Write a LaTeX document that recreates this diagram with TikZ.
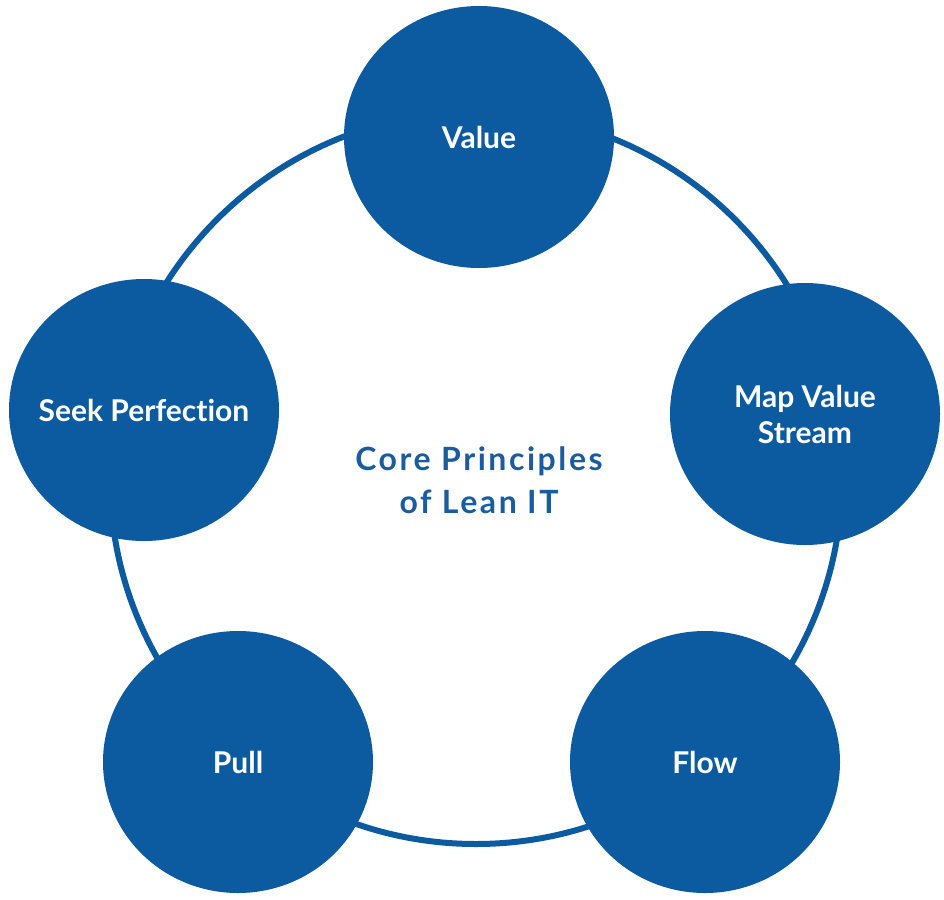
\documentclass[tikz,border=0pt]{standalone}
\usepackage{fontspec}
\setmainfont{Lato}[Ligatures={NoCommon,NoRare}]
\newfontfamily\titlefont{Lato}[Ligatures={NoCommon,NoRare},LetterSpace=8]
\usetikzlibrary{shapes.geometric}
\definecolor{leanblue}{HTML}{0C5AA0}
\definecolor{titleblue}{HTML}{1A5C9E}
\tikzset{
  principle/.style={ellipse, fill=leanblue, draw=none, minimum width=270pt, minimum height=262pt, inner sep=0pt},
  ptext/.style={text=white, align=center, inner sep=0pt, font=\fontsize{30}{36}\selectfont\bfseries},
  ring/.style={draw=leanblue, line width=6pt},
  title/.style={text=titleblue, align=center, font=\titlefont\fontsize{32}{43}\selectfont\bfseries}
}
\begin{document}
\begin{tikzpicture}[x=1pt,y=1pt]
\useasboundingbox (0,0) rectangle (944,-899);
\coordinate (c) at (476,-478);
\draw[ring] (c) circle[radius=366];
\node[principle, label={[ptext]center:Value}] (value) at (479,-137) {};
\node[principle, label={[ptext]center:Map Value\\Stream}] (map) at (805,-414) {};
\node[principle, label={[ptext]center:Flow}] (flow) at (705,-762) {};
\node[principle, label={[ptext]center:Pull}] (pull) at (238,-762) {};
\node[principle, label={[ptext]center:Seek Perfection}] (seek) at (144,-410) {};
\node[title] (core) at (479,-480) {Core Principles\\of Lean IT};
\end{tikzpicture}
\end{document}
